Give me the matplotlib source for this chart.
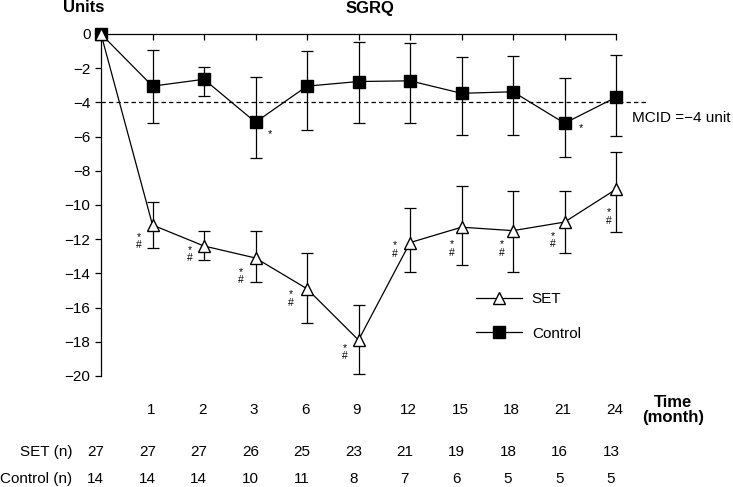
import matplotlib.pyplot as plt
import matplotlib.transforms as mtransforms

plt.rcParams['font.family'] = ['Liberation Sans', 'DejaVu Sans']

# data
time_labels = ['', '1', '2', '3', '6', '9', '12', '15', '18', '21', '24']
set_mean = [0, -11.17, -12.4, -13.1, -14.9, -17.9, -12.2, -11.3, -11.5, -11.0, -9.08]
set_err_hi = [0, 1.35, 0.9, 1.6, 2.1, 2.05, 2.0, 2.4, 2.3, 1.8, 2.2]
set_err_lo = [0, 1.35, 0.8, 1.4, 2.0, 2.0, 1.7, 2.2, 2.4, 1.8, 2.5]
ctrl_mean = [0, -3.05, -2.65, -5.16, -3.05, -2.78, -2.74, -3.47, -3.38, -5.22, -3.7]
ctrl_err_hi = [0, 2.1, 0.7, 2.65, 2.05, 2.3, 2.2, 2.15, 2.1, 2.65, 2.45]
ctrl_err_lo = [0, 2.15, 1.0, 2.1, 2.55, 2.4, 2.45, 2.45, 2.55, 1.95, 2.25]
set_n = [27, 27, 27, 26, 25, 23, 21, 19, 18, 16, 13]
ctrl_n = [14, 14, 14, 10, 11, 8, 7, 6, 5, 5, 5]
mcid = -4
set_sig_idx = [1, 2, 3, 4, 5, 6, 7, 8, 9, 10]
ctrl_sig_idx = [3, 9]

# label offsets (pixels) for the significance marks
set_sig_dy = [12, 4, 14, 6, 8, 3, 17, 14, 14, 23]
set_sig_dx = [-14, -14, -15, -16, -14, -15, -10, -11, -12, -7]
ctrl_sig_off = [(14, 10), (16, 3)]

x = list(range(len(time_labels)))

fig = plt.figure(figsize=(7.33, 4.87), dpi=100)
ax = fig.add_axes([101 / 733, 0.2104, 0.7448, 0.7374])
ax.set_xlim(0, 10.6)
ax.set_ylim(-20.5, 0.5)

# MCID dashed line
ax.plot([0, 10.6], [mcid, mcid], color='black', lw=0.9, ls=(0, (3.5, 2.5)), zorder=1)
ax.text(10.31, -4.9, 'MCID =\u22124 unit', fontsize=11, va='center', ha='left')

# error bars
ax.errorbar(x, ctrl_mean, yerr=[ctrl_err_lo, ctrl_err_hi], fmt='none', ecolor='black',
            elinewidth=0.9, capsize=4, capthick=0.9, zorder=2, clip_on=False)
ax.errorbar(x, set_mean, yerr=[set_err_lo, set_err_hi], fmt='none', ecolor='black',
            elinewidth=0.9, capsize=4, capthick=0.9, zorder=2, clip_on=False)

ax.plot(x, ctrl_mean, color='black', lw=0.9, marker='s', ms=8.5, mfc='black',
        mec='black', label='Control', zorder=3, clip_on=False)
ax.plot(x, set_mean, color='black', lw=0.9, marker='^', ms=8, mfc='white',
        mec='black', mew=1.0, label='SET', zorder=4, clip_on=False)

# significance marks
for k, i in enumerate(set_sig_idx):
    ax.annotate('*\n#', xy=(i, set_mean[i]), xytext=(set_sig_dx[k], -set_sig_dy[k] - 4),
                textcoords='offset pixels', fontsize=7.5, ha='center', va='center',
                linespacing=0.85)
for k, i in enumerate(ctrl_sig_idx):
    dx, dy = ctrl_sig_off[k]
    ax.annotate('*', xy=(i, ctrl_mean[i]), xytext=(dx, -dy - 2),
                textcoords='offset pixels', fontsize=8, ha='center', va='center')

# axes styling
ax.spines['top'].set_visible(False)
ax.spines['right'].set_visible(False)
ax.spines['bottom'].set_position(('data', 0))
ax.spines['bottom'].set_bounds(0, 10)
ax.spines['left'].set_bounds(-20, 0)
for s in ['bottom', 'left']:
    ax.spines[s].set_linewidth(0.9)
ax.set_xticks(x)
ax.set_xticklabels([])
ax.set_yticks(range(0, -21, -2))
ax.tick_params(axis='x', direction='out', length=4.5, width=0.9)
ax.tick_params(axis='y', direction='out', length=4.5, width=0.9, labelsize=11, pad=3)

# time labels and n table below the plot
trans = mtransforms.blended_transform_factory(ax.transData, fig.transFigure)
for i, lab in enumerate(time_labels):
    ax.text(i - 0.03, 1 - 410 / 487, lab, transform=trans, ha='center', va='center', fontsize=11)
    ax.text(i - 0.1, 1 - 452 / 487, str(set_n[i]), transform=trans, ha='center', va='center', fontsize=11)
    ax.text(i - 0.1, 1 - 479 / 487, str(ctrl_n[i]), transform=trans, ha='center', va='center', fontsize=11)

fig.text(72 / 733, 1 - 452 / 487, 'SET (n)', ha='right', va='center', fontsize=11)
fig.text(72 / 733, 1 - 479 / 487, 'Control (n)', ha='right', va='center', fontsize=11)
fig.text(673 / 733, 1 - 410 / 487, 'Time\n(month)', ha='center', va='center', fontsize=12,
         fontweight='bold', linespacing=1.05)
fig.text(84 / 733, 1 - 8 / 487, 'Units', ha='center', va='center', fontsize=12, fontweight='bold')
fig.text(370 / 733, 1 - 8 / 487, 'SGRQ', ha='center', va='center', fontsize=12, fontweight='bold')

handles, labels = ax.get_legend_handles_labels()
fig.legend(handles[::-1], labels[::-1], loc='upper left', bbox_to_anchor=(476 / 733, 1 - 292 / 487),
           frameon=False, fontsize=11, handlelength=3.0, handletextpad=0.65,
           labelspacing=1.35, borderpad=0, borderaxespad=0)

fig.savefig('out.png', dpi=100)
